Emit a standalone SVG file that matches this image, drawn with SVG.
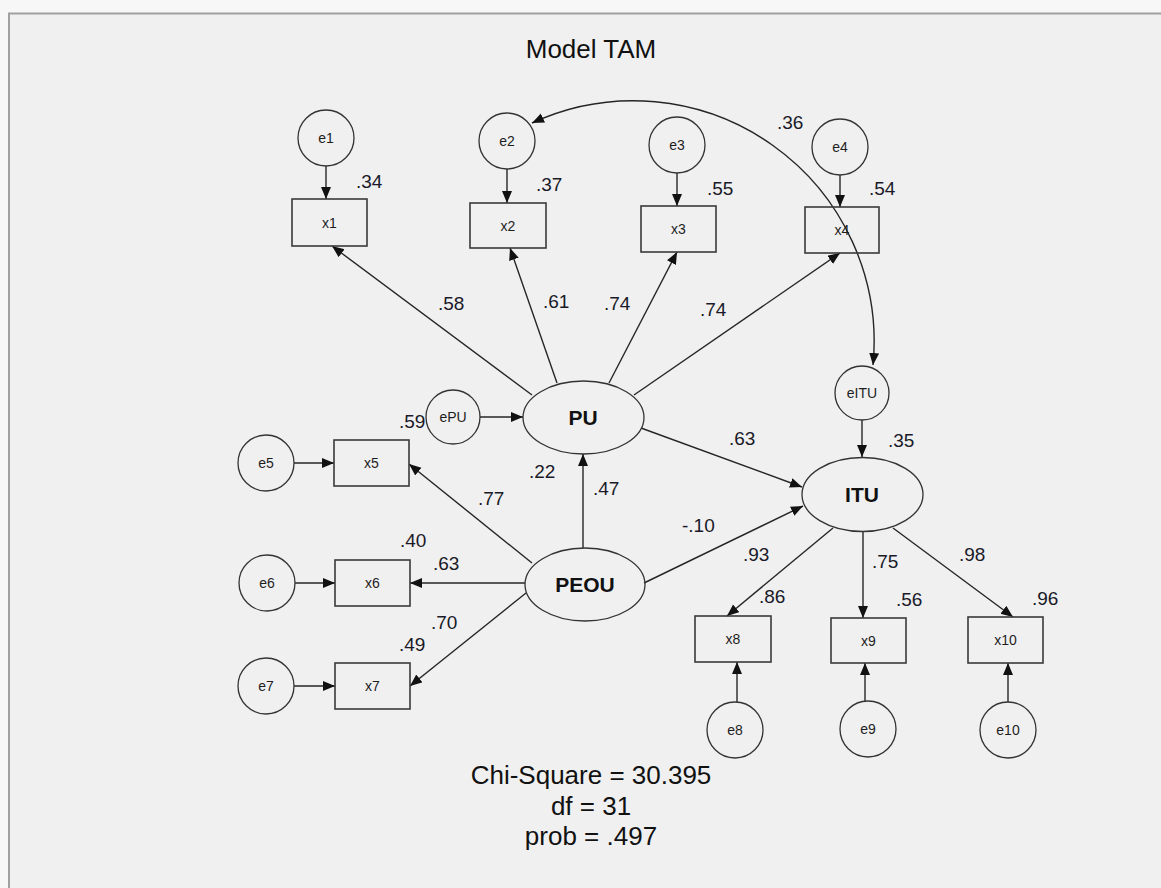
<svg xmlns="http://www.w3.org/2000/svg" width="1161" height="888" viewBox="0 0 1161 888">
  <style>
    .frame { fill: #f0f0f0; stroke: #a0a0a0; stroke-width: 2; }
    .obs { fill: none; stroke: #3a3a3a; stroke-width: 1.6; }
    .lat { fill: none; stroke: #333; stroke-width: 1.3; }
    .err { fill: none; stroke: #333; stroke-width: 1.3; }
    .edge { fill: none; stroke: #262626; stroke-width: 1.4; marker-end: url(#head); }
    .small { font-family: "Liberation Sans", Arial, sans-serif; font-size: 14px; fill: #1e1e1e; text-anchor: middle; dominant-baseline: central; }
    .big { font-family: "Liberation Sans", Arial, sans-serif; font-size: 21px; font-weight: bold; fill: #111; text-anchor: middle; dominant-baseline: central; }
    .coef { font-family: "Liberation Sans", Arial, sans-serif; font-size: 19px; fill: #1a1a28; }
    .head { font-family: "Liberation Sans", Arial, sans-serif; font-size: 26px; fill: #111; text-anchor: middle; }
  </style>
  <defs>
    <marker id="head" markerUnits="userSpaceOnUse" markerWidth="13" markerHeight="11" refX="12" refY="5" orient="auto-start-reverse" viewBox="0 0 13 11">
      <path d="M0,0 L12,5 L0,10 Z" fill="#111"/>
    </marker>
  </defs>

  <!-- window background and frame -->
  <rect x="0" y="0" width="1161" height="888" fill="#f7f7f7"/>
  <rect class="frame" x="9" y="13.5" width="1170" height="900"/>

  <text class="head" x="591" y="58">Model TAM</text>

  <!-- paths and error terms -->
  <g id="connectors">
    <!-- error terms to indicators -->
    <line class="edge" x1="326" y1="166" x2="326" y2="199"/>
    <line class="edge" x1="507" y1="169" x2="507" y2="203"/>
    <line class="edge" x1="677" y1="173" x2="677" y2="206"/>
    <line class="edge" x1="840" y1="175" x2="840" y2="207"/>
    <line class="edge" x1="294" y1="463" x2="334" y2="463"/>
    <line class="edge" x1="295" y1="583" x2="335" y2="583"/>
    <line class="edge" x1="294" y1="686" x2="335" y2="686"/>
    <line class="edge" x1="737" y1="702" x2="737" y2="662"/>
    <line class="edge" x1="865" y1="701" x2="865" y2="663"/>
    <line class="edge" x1="1008" y1="702" x2="1008" y2="663"/>
    <!-- disturbances -->
    <line class="edge" x1="480" y1="417" x2="523" y2="417"/>
    <line class="edge" x1="862" y1="420" x2="862" y2="457"/>
    <!-- PU loadings -->
    <line class="edge" x1="532" y1="395" x2="332" y2="246"/>
    <line class="edge" x1="557" y1="383" x2="510" y2="248"/>
    <line class="edge" x1="609" y1="383" x2="677" y2="252"/>
    <line class="edge" x1="634" y1="395" x2="840" y2="253"/>
    <!-- PEOU loadings -->
    <line class="edge" x1="532" y1="563" x2="409" y2="464"/>
    <line class="edge" x1="525" y1="583" x2="410" y2="583"/>
    <line class="edge" x1="526" y1="593" x2="410" y2="686"/>
    <!-- ITU loadings -->
    <line class="edge" x1="833" y1="528" x2="727" y2="616"/>
    <line class="edge" x1="863" y1="532" x2="863" y2="618"/>
    <line class="edge" x1="893" y1="528" x2="1013" y2="617"/>
    <!-- structural paths -->
    <line class="edge" x1="583" y1="548" x2="583" y2="454"/>
    <line class="edge" x1="641" y1="428" x2="802" y2="487"/>
    <line class="edge" x1="644" y1="583" x2="803" y2="506"/>
    <!-- covariance e2 <-> eITU -->
    <path class="edge" d="M532,123 A241,241 0 0 1 873,365" style="marker-start:url(#head)"/>
  </g>

  <!-- measurement errors -->
  <g id="e1"><circle class="err" cx="326" cy="138" r="28"/><text class="small" x="326" y="138">e1</text></g>
  <g id="e2"><circle class="err" cx="507" cy="141" r="28"/><text class="small" x="507" y="141">e2</text></g>
  <g id="e3"><circle class="err" cx="677" cy="145" r="28"/><text class="small" x="677" y="145">e3</text></g>
  <g id="e4"><circle class="err" cx="840" cy="147" r="28"/><text class="small" x="840" y="147">e4</text></g>
  <g id="e5"><circle class="err" cx="266" cy="463" r="28"/><text class="small" x="266" y="463">e5</text></g>
  <g id="e6"><circle class="err" cx="267" cy="583" r="28"/><text class="small" x="267" y="583">e6</text></g>
  <g id="e7"><circle class="err" cx="266" cy="686" r="28"/><text class="small" x="266" y="686">e7</text></g>
  <g id="e8"><circle class="err" cx="735" cy="730" r="28"/><text class="small" x="735" y="730">e8</text></g>
  <g id="e9"><circle class="err" cx="868" cy="729" r="28"/><text class="small" x="868" y="729">e9</text></g>
  <g id="e10"><circle class="err" cx="1008" cy="730" r="28"/><text class="small" x="1008" y="730">e10</text></g>
  <g id="ePU"><circle class="err" cx="453" cy="417" r="27"/><text class="small" x="453" y="417">ePU</text></g>
  <g id="eITU"><circle class="err" cx="862" cy="393" r="27"/><text class="small" x="862" y="393">eITU</text></g>

  <!-- indicators -->
  <g id="x1"><rect class="obs" x="292" y="199" width="75" height="47"/><text class="small" x="329.5" y="222.5">x1</text></g>
  <g id="x2"><rect class="obs" x="470" y="203" width="76" height="45"/><text class="small" x="508" y="225.5">x2</text></g>
  <g id="x3"><rect class="obs" x="641" y="206" width="75" height="46"/><text class="small" x="678.5" y="229">x3</text></g>
  <g id="x4"><rect class="obs" x="805" y="207" width="74" height="46"/><text class="small" x="842" y="230">x4</text></g>
  <g id="x5"><rect class="obs" x="334" y="440" width="75" height="46"/><text class="small" x="371.5" y="463">x5</text></g>
  <g id="x6"><rect class="obs" x="335" y="560" width="75" height="46"/><text class="small" x="372.5" y="583">x6</text></g>
  <g id="x7"><rect class="obs" x="335" y="663" width="75" height="46"/><text class="small" x="372.5" y="686">x7</text></g>
  <g id="x8"><rect class="obs" x="695" y="616" width="76" height="46"/><text class="small" x="733" y="639">x8</text></g>
  <g id="x9"><rect class="obs" x="831" y="618" width="75" height="45"/><text class="small" x="868.5" y="640.5">x9</text></g>
  <g id="x10"><rect class="obs" x="968" y="617" width="75" height="46"/><text class="small" x="1005.5" y="640">x10</text></g>

  <!-- latent constructs -->
  <g id="PU"><ellipse class="lat" cx="583.5" cy="417.5" rx="60.5" ry="36.5"/><text class="big" x="583" y="417.5">PU</text></g>
  <g id="PEOU"><ellipse class="lat" cx="585" cy="584.5" rx="60" ry="36.5"/><text class="big" x="585" y="584.5">PEOU</text></g>
  <g id="ITU"><ellipse class="lat" cx="862.5" cy="494.5" rx="60.5" ry="37"/><text class="big" x="862" y="494.5">ITU</text></g>

  <!-- estimates -->
  <g id="labels">
    <text class="coef" x="356" y="188">.34</text>
    <text class="coef" x="536" y="191">.37</text>
    <text class="coef" x="707" y="195">.55</text>
    <text class="coef" x="869" y="195">.54</text>
    <text class="coef" x="777" y="129">.36</text>
    <text class="coef" x="438" y="310">.58</text>
    <text class="coef" x="543" y="308">.61</text>
    <text class="coef" x="604" y="310">.74</text>
    <text class="coef" x="700" y="316">.74</text>
    <text class="coef" x="399" y="428">.59</text>
    <text class="coef" x="529" y="478">.22</text>
    <text class="coef" x="593" y="495">.47</text>
    <text class="coef" x="478" y="505">.77</text>
    <text class="coef" x="400" y="547">.40</text>
    <text class="coef" x="433" y="570">.63</text>
    <text class="coef" x="431" y="629">.70</text>
    <text class="coef" x="399" y="651">.49</text>
    <text class="coef" x="729" y="445">.63</text>
    <text class="coef" x="888" y="447">.35</text>
    <text class="coef" x="682" y="532">-.10</text>
    <text class="coef" x="743" y="561">.93</text>
    <text class="coef" x="759" y="603">.86</text>
    <text class="coef" x="872" y="568">.75</text>
    <text class="coef" x="896" y="606">.56</text>
    <text class="coef" x="959" y="561">.98</text>
    <text class="coef" x="1032" y="605">.96</text>
  </g>

  <!-- fit summary -->
  <g id="fit">
    <text class="head" x="591" y="784">Chi-Square = 30.395</text>
    <text class="head" x="591" y="815">df = 31</text>
    <text class="head" x="591" y="845">prob = .497</text>
  </g>
</svg>
